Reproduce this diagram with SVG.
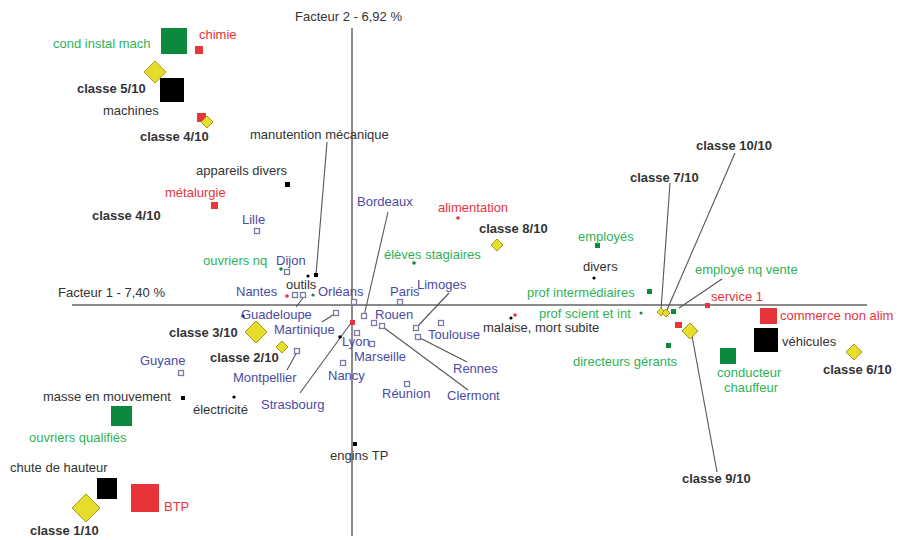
<svg xmlns="http://www.w3.org/2000/svg" width="897" height="540" viewBox="0 0 897 540">
<style>
text{font-family:"Liberation Sans",Arial,sans-serif;font-size:13px}
.k{fill:#333}
.b{fill:#333;font-weight:bold}
.g{fill:#2fb257}
.r{fill:#e8333b}
.u{fill:#4b4ba3}
.ax{stroke:#8a8a8a;stroke-width:2}
.ln{stroke:#555;stroke-width:1.1;fill:none}
.dia{fill:#e6dd2c;stroke:#a69a1c;stroke-width:1}
.gs{fill:#0b8a3e}
.rs{fill:#e8333b}
.ks{fill:#000}
.hs{fill:#fff;stroke:#7a7aa6;stroke-width:1.3}
</style>
<rect width="897" height="540" fill="#fff"/>
<g id="axes">
<line class="ax" x1="72" y1="305" x2="867" y2="305"/>
<line class="ax" x1="352" y1="28" x2="352" y2="536"/>
<text class="k" x="295" y="21">Facteur 2 - 6,92 %</text>
<text class="k" x="58" y="297">Facteur 1 - 7,40 %</text>
</g>
<g id="connectors">
<line class="ln" x1="327" y1="142" x2="316" y2="275"/>
<line class="ln" x1="388" y1="212" x2="364" y2="316"/>
<line class="ln" x1="296" y1="307" x2="303" y2="298"/>
<line class="ln" x1="322" y1="322" x2="336" y2="313"/>
<line class="ln" x1="287" y1="370" x2="297" y2="352"/>
<line class="ln" x1="300" y1="393" x2="351" y2="323"/>
<line class="ln" x1="383" y1="327" x2="468" y2="390"/>
<line class="ln" x1="449" y1="293" x2="416" y2="328"/>
<line class="ln" x1="418" y1="337" x2="467" y2="362"/>
<line class="ln" x1="670" y1="183" x2="661" y2="310"/>
<line class="ln" x1="735" y1="153" x2="667" y2="310"/>
<line class="ln" x1="722" y1="279" x2="679" y2="308"/>
<line class="ln" x1="692" y1="336" x2="717" y2="472"/>
</g>
<g id="cond-instal-mach"><rect class="gs" x="161" y="28" width="26" height="26"/><text class="g" x="53" y="48">cond instal mach</text></g>
<g id="chimie"><rect class="rs" x="195" y="46" width="8" height="8"/><text class="r" x="199" y="39">chimie</text></g>
<g id="classe5"><polygon class="dia" points="155,61 166,72 155,83 144,72"/><text class="b" x="77" y="93">classe 5/10</text></g>
<g id="machines"><rect class="ks" x="160" y="78" width="24" height="24"/><text class="k" x="103" y="115">machines</text></g>
<g id="classe4a"><rect class="rs" x="197" y="113" width="9" height="9"/><polygon class="dia" points="207,116 213,122 207,128 201,122"/><text class="b" x="140" y="141">classe 4/10</text></g>
<g id="manutention"><text class="k" x="250" y="139">manutention mécanique</text></g>
<g id="appareils-divers"><rect class="ks" x="285" y="182" width="5" height="5"/><text class="k" x="196" y="175">appareils divers</text></g>
<g id="metalurgie"><rect class="rs" x="211" y="202" width="7" height="7"/><text class="r" x="165" y="197">métalurgie</text></g>
<g id="classe4b"><text class="b" x="92" y="220">classe 4/10</text></g>
<g id="lille"><rect class="hs" x="254.5" y="228.5" width="5" height="5"/><text class="u" x="242" y="224">Lille</text></g>
<g id="ouvriers-nq"><circle class="gs" cx="281" cy="269" r="1.8"/><text class="g" x="203" y="265">ouvriers nq</text></g>
<g id="dijon"><rect class="hs" x="284.5" y="269.5" width="5" height="5"/><text class="u" x="276" y="265">Dijon</text></g>
<g id="outils"><circle class="ks" cx="308" cy="276" r="1.6"/><rect class="ks" x="314" y="273" width="4" height="4"/><text class="k" x="286" y="289">outils</text></g>
<g id="nantes"><circle class="rs" cx="287" cy="296" r="1.8"/><rect class="hs" x="292.5" y="292.5" width="5" height="5"/><rect class="hs" x="300.5" y="292.5" width="5" height="5"/><circle class="gs" cx="313" cy="295" r="1.6"/><text class="u" x="236" y="296">Nantes</text></g>
<g id="orleans"><rect class="hs" x="351.5" y="299.5" width="5" height="5"/><text class="u" x="318" y="296">Orléans</text></g>
<g id="bordeaux"><rect class="hs" x="361.5" y="313.5" width="5" height="5"/><text class="u" x="357" y="206">Bordeaux</text></g>
<g id="guadeloupe"><circle class="ks" cx="243" cy="316" r="1.6"/><text class="u" x="241" y="319">Guadeloupe</text></g>
<g id="classe3"><polygon class="dia" points="256,321 267,332 256,343 245,332"/><text class="b" x="169" y="337">classe 3/10</text></g>
<g id="martinique"><rect class="hs" x="333.5" y="310.5" width="5" height="5"/><text class="u" x="274" y="334">Martinique</text></g>
<g id="classe2"><polygon class="dia" points="282,341 288,347 282,353 276,347"/><text class="b" x="210" y="362">classe 2/10</text></g>
<g id="montpellier"><rect class="hs" x="294.5" y="348.5" width="5" height="5"/><text class="u" x="233" y="382">Montpellier</text></g>
<g id="guyane"><rect class="hs" x="178.5" y="370.5" width="5" height="5"/><text class="u" x="140" y="365">Guyane</text></g>
<g id="masse"><rect class="ks" x="181" y="396" width="4" height="4"/><text class="k" x="43" y="401">masse en mouvement</text></g>
<g id="electricite"><circle class="ks" cx="234" cy="397" r="1.6"/><text class="k" x="193" y="414">électricité</text></g>
<g id="strasbourg"><circle class="ks" cx="340" cy="337" r="1.8"/><text class="u" x="261" y="409">Strasbourg</text></g>
<g id="lyon"><rect class="rs" x="350" y="320" width="5" height="5"/><rect class="hs" x="354.5" y="330.5" width="5" height="5"/><text class="u" x="342" y="346">Lyon</text></g>
<g id="nancy"><rect class="hs" x="340.5" y="360.5" width="5" height="5"/><text class="u" x="328" y="380">Nancy</text></g>
<g id="marseille"><rect class="hs" x="369.5" y="341.5" width="5" height="5"/><text class="u" x="354" y="361">Marseille</text></g>
<g id="rouen"><rect class="hs" x="371.5" y="320.5" width="5" height="5"/><rect class="hs" x="379.5" y="323.5" width="5" height="5"/><text class="u" x="375" y="319">Rouen</text></g>
<g id="paris"><rect class="hs" x="397.5" y="299.5" width="5" height="5"/><text class="u" x="390" y="296">Paris</text></g>
<g id="limoges"><rect class="hs" x="413.5" y="325.5" width="5" height="5"/><text class="u" x="417" y="289">Limoges</text></g>
<g id="toulouse"><rect class="hs" x="438.5" y="320.5" width="5" height="5"/><text class="u" x="428" y="339">Toulouse</text></g>
<g id="rennes"><rect class="hs" x="415.5" y="334.5" width="5" height="5"/><text class="u" x="453" y="373">Rennes</text></g>
<g id="clermont"><text class="u" x="447" y="400">Clermont</text></g>
<g id="reunion"><rect class="hs" x="404.5" y="381.5" width="5" height="5"/><text class="u" x="382" y="398">Réunion</text></g>
<g id="engins-tp"><rect class="ks" x="353" y="442" width="4" height="4"/><text class="k" x="330" y="460">engins TP</text></g>
<g id="malaise"><circle class="ks" cx="511" cy="318" r="1.6"/><circle class="rs" cx="515" cy="315" r="1.8"/><text class="k" x="483" y="332">malaise, mort subite</text></g>
<g id="alimentation"><circle class="rs" cx="458" cy="218" r="1.8"/><text class="r" x="438" y="212">alimentation</text></g>
<g id="classe8"><polygon class="dia" points="497,239 503,245 497,251 491,245"/><text class="b" x="479" y="233">classe 8/10</text></g>
<g id="eleves"><circle class="gs" cx="414" cy="263" r="1.8"/><text class="g" x="384" y="259">élèves stagiaires</text></g>
<g id="employes"><rect class="gs" x="595" y="243" width="5" height="5"/><text class="g" x="578" y="241">employés</text></g>
<g id="divers"><circle class="ks" cx="594" cy="278" r="1.6"/><text class="k" x="583" y="271">divers</text></g>
<g id="prof-inter"><rect class="gs" x="647" y="289" width="5" height="5"/><text class="g" x="527" y="297">prof intermédiaires</text></g>
<g id="prof-scient"><circle class="gs" cx="641" cy="313" r="1.5"/><text class="g" x="539" y="318">prof scient et int</text></g>
<g id="classe7"><polygon class="dia" points="661,308 665,312 661,316 657,312"/><text class="b" x="630" y="182">classe 7/10</text></g>
<g id="classe10"><polygon class="dia" points="666,309 670,313 666,317 662,313"/><text class="b" x="696" y="150">classe 10/10</text></g>
<g id="employe-nq-vente"><rect class="gs" x="671" y="309" width="5" height="5"/><text class="g" x="695" y="274">employé nq vente</text></g>
<g id="service1"><rect class="rs" x="705" y="303" width="5" height="5"/><text class="r" x="711" y="301">service 1</text></g>
<g id="commerce"><rect class="rs" x="760" y="308" width="17" height="16"/><text class="r" x="780" y="320">commerce non alim</text></g>
<g id="vehicules"><rect class="ks" x="754" y="328" width="24" height="24"/><text class="k" x="782" y="346">véhicules</text></g>
<g id="classe6"><polygon class="dia" points="854,344 862,352 854,360 846,352"/><text class="b" x="823" y="374">classe 6/10</text></g>
<g id="red-mid"><rect class="rs" x="675" y="322" width="7" height="6"/></g>
<g id="classe9"><polygon class="dia" points="690,323 698,331 690,339 682,331"/><text class="b" x="682" y="483">classe 9/10</text></g>
<g id="directeurs"><rect class="gs" x="666" y="343" width="5" height="5"/><text class="g" x="573" y="366">directeurs gérants</text></g>
<g id="conducteur"><rect class="gs" x="720" y="348" width="16" height="16"/><text class="g" x="717" y="377">conducteur</text><text class="g" x="724" y="392">chauffeur</text></g>
<g id="ouvriers-qualifies"><rect class="gs" x="111" y="406" width="21" height="20"/><text class="g" x="29" y="442">ouvriers qualifiés</text></g>
<g id="chute"><rect class="ks" x="97" y="478" width="20" height="21"/><text class="k" x="10" y="472">chute de hauteur</text></g>
<g id="btp"><rect class="rs" x="131" y="484" width="28" height="28"/><text class="r" x="164" y="511">BTP</text></g>
<g id="classe1"><polygon class="dia" points="86,494 100,508 86,522 72,508"/><text class="b" x="30" y="535">classe 1/10</text></g>
</svg>
